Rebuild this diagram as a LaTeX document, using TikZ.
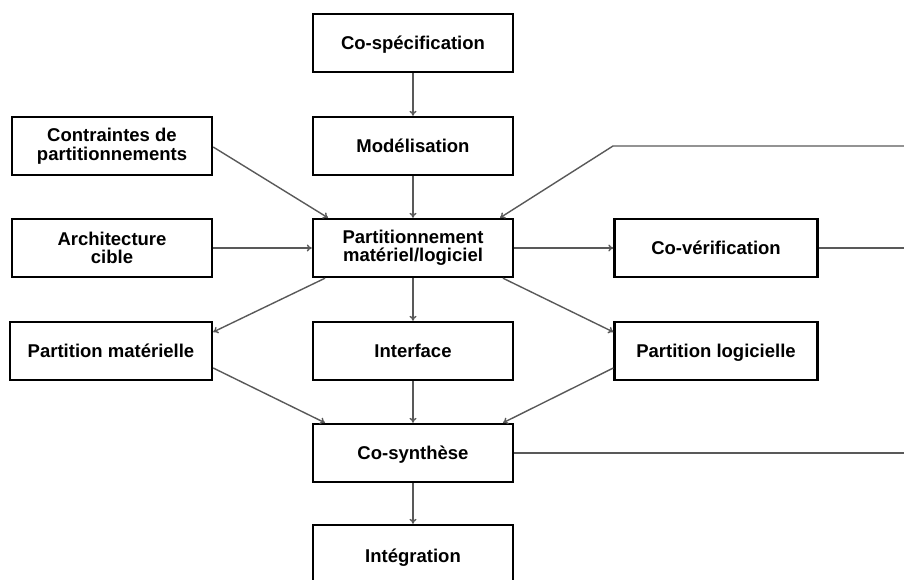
\documentclass[tikz,border=0pt]{standalone}
\usepackage{fontspec}
\setmainfont{Liberation Sans}
\usetikzlibrary{arrows.meta}
\begin{document}
\begin{tikzpicture}[x=1pt,y=-1pt,
  box/.style={draw=black,line width=2.4pt,fill=white,minimum width=200pt,minimum height=58pt,
    inner sep=0pt,align=center,font=\bfseries\fontsize{18.5}{18.5}\selectfont},
  one/.style={text height=14pt,text depth=0.7pt},
  conn/.style={draw=black!65,line width=1.4pt,-{To[length=5pt,width=7pt]}},
  plain/.style={draw=black!65,line width=1.4pt}]
\useasboundingbox (0,0) rectangle (904,579);
\node[box,one] (cospec) at (413,43) {Co-spécification};
\node[box,one] (model) at (413,146) {Modélisation};
\node[box] (part) at (413,248) {Partitionnement\\matériel/logiciel};
\node[box,one] (inter) at (413,351) {Interface};
\node[box,one] (synth) at (413,453) {Co-synthèse};
\node[box,one,minimum height=62pt] (integ) at (413,556) {Intégration};
\node[box] (contr) at (112,146) {Contraintes de\\partitionnements};
\node[box] (arch) at (112,248) {Architecture\\cible};
\node[box,one,minimum width=202pt] (pmat) at (111,351) {Partition matérielle};
\node[box,one,minimum width=203pt] (plog) at (716,351) {Partition logicielle};
\node[box,one,minimum width=203pt] (cover) at (716,248) {Co-vérification};
\coordinate (fbA) at (904,146);
\coordinate (fbB) at (613,146);
\coordinate (fbC) at (904,248);
\coordinate (fbD) at (904,453);
\draw[conn] (cospec) -- (model);
\draw[conn] (model) -- (part);
\draw[conn] (part) -- (inter);
\draw[conn] (inter) -- (synth);
\draw[conn] (synth) -- (integ);
\draw[conn] (contr.east |- 0,147) -- (part.north west -| 328,0);
\draw[conn] (arch) -- (part);
\draw[conn] (part.south west -| 325,0) -- (pmat.east |- 0,332);
\draw[conn] (part.south east -| 503,0) -- (plog.west |- 0,332);
\draw[conn] (pmat.east |- 0,368) -- (synth.north west -| 325,0);
\draw[conn] (plog.west |- 0,368) -- (synth.north east -| 503,0);
\draw[conn] (part) -- (cover);
\draw[conn] (fbA) -- (fbB) -- (part.north east -| 500,0);
\draw[plain] (cover) -- (fbC);
\draw[plain] (synth) -- (fbD);
\end{tikzpicture}
\end{document}
